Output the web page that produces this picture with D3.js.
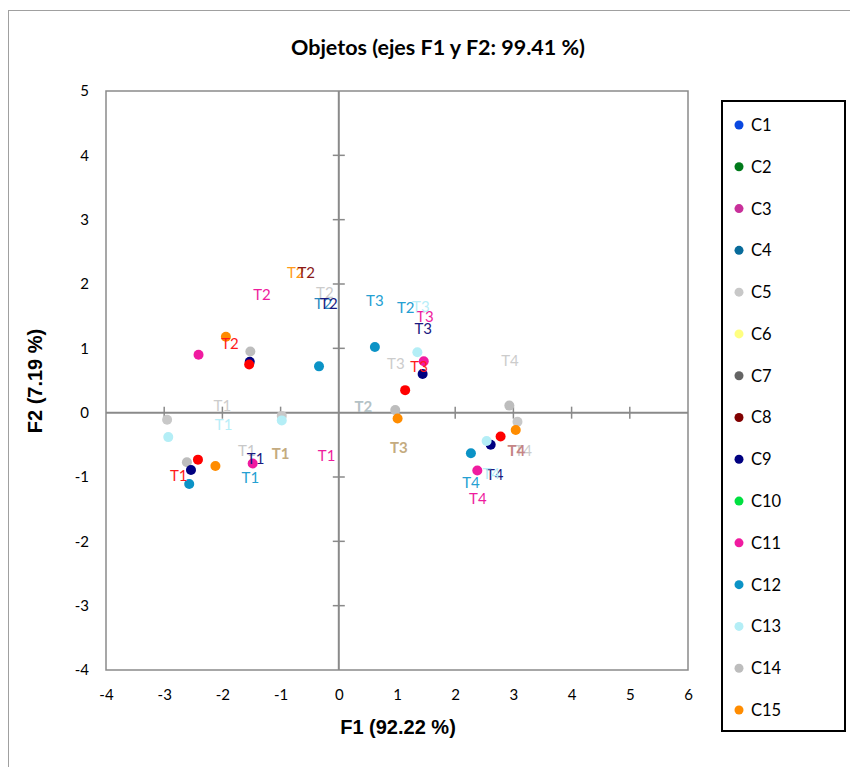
<!DOCTYPE html>
<html><head><meta charset="utf-8">
<script src="https://cdn.jsdelivr.net/npm/d3@7"></script>
<style>body{margin:0;background:#fff;} svg{display:block;}</style>
</head><body><svg id="chart" width="850" height="767"></svg>
<script>
// ---------- DATA ----------
const legendSeries = ["C1","C2","C3","C4","C5","C6","C7","C8","C9","C10","C11","C12","C13","C14","C15"];
const xTicks = [-4,-3,-2,-1,0,1,2,3,4,5,6];
const yTicks = [-4,-3,-2,-1,0,1,2,3,4,5];

// markers (object coordinates F1, F2)
const pointSeries = ["C5","C5","C5",
  "C14","C14","C14","C14",
  "C9","C9","C9","C9",
  "C11","C11","C11","C11",
  "C12","C12","C12","C12",
  "C13","C13","C13","C13",
  "C15","C15","C15","C15",
  "C16","C16","C16","C16"];
const pointX = [-2.95,-0.98,3.07,
  -1.52,-2.61,0.97,2.93,
  -1.53,-2.54,1.44,2.61,
  -2.41,-1.48,1.46,2.38,
  -0.34,0.62,-2.57,2.27,
  1.35,-2.93,-0.98,2.54,
  -1.94,-2.12,1.01,3.04,
  -1.54,-2.42,1.14,2.78];
const pointY = [-0.11,-0.05,-0.14,
  0.95,-0.77,0.04,0.11,
  0.79,-0.89,0.60,-0.50,
  0.90,-0.79,0.80,-0.90,
  0.72,1.02,-1.11,-0.63,
  0.94,-0.38,-0.12,-0.44,
  1.18,-0.83,-0.09,-0.27,
  0.75,-0.73,0.35,-0.37];

// labels
const labelSeries = ["C5","mix3","mix1","mix2","mix1",
  "C15","C8","C5","C4","C9",
  "C11","C11","C11","C11",
  "C5","C5","C5","C14",
  "C9","C9","C9",
  "C16","C16","C16",
  "C12","C12","C12","C12",
  "C13","C13","C13"];
const labelText = ["T4","T4","T1","T2","T3",
  "T2","T2","T2","T2","T2",
  "T2","T3","T1","T4",
  "T3","T1","T4","T1",
  "T3","T1","T4",
  "T2","T3","T1",
  "T3","T2","T1","T4",
  "T3","T1","T4"];
const labelX = [3.17,3.05,-1.00,0.42,1.03,
  -0.74,-0.56,-0.24,-0.27,-0.17,
  -1.32,1.48,-0.21,2.39,
  0.98,-2.00,2.94,-1.58,
  1.45,-1.43,2.68,
  -1.87,1.38,-2.75,
  0.62,1.15,-1.52,2.27,
  1.41,-1.98,2.62];
const labelY = [-0.59,-0.59,-0.63,0.10,-0.55,
  2.17,2.17,1.87,1.69,1.69,
  1.83,1.49,-0.66,-1.34,
  0.76,0.11,0.81,-0.59,
  1.30,-0.72,-0.96,
  1.07,0.71,-0.98,
  1.74,1.64,-1.01,-1.09,
  1.65,-0.18,-0.94];

// ---------- STYLES ----------
const seriesColor = d3.scaleOrdinal()
  .domain(["C1","C2","C3","C4","C5","C6","C7","C8","C9","C10","C11","C12","C13","C14","C15","C16"])
  .range(["#0a48e0","#007a1a","#c8309a","#086b9a","#c8c8c8","#ffff80","#646464","#800000","#000080","#00e040","#f01ba0","#0b93c6","#b4eef6","#bdbdbd","#ff8c00","#ff0000"]);
const labelColor = d3.scaleOrdinal()
  .domain(["C4","C5","C8","C9","C11","C12","C13","C14","C15","C16","mix1","mix2","mix3"])
  .range(["#2a88c0","#cccccc","#8b1a1a","#1a1a80","#ee1c9e","#25a0d2","#b8eef8","#c8c8c8","#ff9a1a","#ff1a1a","#c4ab80","#b4c2c6","#c58585"]);
const boldSeries = new Set(["mix1","mix2","mix3"]);

const plot = {left:106, right:688, top:91, bottom:670};
const svg = d3.select("#chart");

const x = d3.scaleLinear().domain([-4,6]).range([plot.left, plot.right]);
const y = d3.scaleLinear().domain([-4,5]).range([plot.bottom, plot.top]);

// outer chart border
svg.append("rect").attr("x",8.5).attr("y",10.5).attr("width",900).attr("height",800)
  .attr("fill","none").attr("stroke","#a0a0a0").attr("stroke-width",1);

// title
svg.append("text").attr("x",438).attr("y",55).attr("text-anchor","middle")
  .attr("font-family","Lato, 'Open Sans', sans-serif").attr("font-weight","bold")
  .attr("font-size",21.5).attr("fill","#000").text("Objetos (ejes F1 y F2: 99.41 %)");

// plot frame
svg.append("rect").attr("x",plot.left).attr("y",plot.top)
  .attr("width",plot.right-plot.left).attr("height",plot.bottom-plot.top)
  .attr("fill","none").attr("stroke","#8a8a8a").attr("stroke-width",1.5);

// tick labels via axes
const fmt = d => String(d);
const xAxis = d3.axisBottom(x).tickValues(xTicks).tickSize(0).tickPadding(19).tickFormat(fmt);
const gx = svg.append("g").attr("transform",`translate(0,${plot.bottom})`).call(xAxis);
gx.select(".domain").remove();
gx.selectAll("text").attr("font-family","Lato, sans-serif").attr("font-size",15).attr("fill","#000");

const yAxis = d3.axisLeft(y).tickValues(yTicks).tickSize(0).tickPadding(17).tickFormat(fmt);
const gy = svg.append("g").attr("transform",`translate(${plot.left},0)`).call(yAxis);
gy.select(".domain").remove();
gy.selectAll("text").attr("font-family","Lato, sans-serif").attr("font-size",15).attr("fill","#000");

// zero axes with cross ticks
const axG = svg.append("g").attr("stroke","#8a8a8a");
axG.append("line").attr("x1",plot.left).attr("x2",plot.right).attr("y1",y(0)).attr("y2",y(0)).attr("stroke-width",2);
axG.append("line").attr("x1",x(0)).attr("x2",x(0)).attr("y1",plot.top).attr("y2",plot.bottom).attr("stroke-width",2);
axG.selectAll(".xt").data(xTicks.filter(d=>d!==0 && d!==-4 && d!==6)).enter().append("line")
  .attr("x1",d=>x(d)).attr("x2",d=>x(d)).attr("y1",y(0)-6).attr("y2",y(0)+6).attr("stroke-width",1.5);
axG.selectAll(".yt").data(yTicks.filter(d=>d!==0 && d!==-4 && d!==5)).enter().append("line")
  .attr("x1",x(0)-6).attr("x2",x(0)+6).attr("y1",d=>y(d)).attr("y2",d=>y(d)).attr("stroke-width",1.5);

// axis titles
svg.append("text").attr("x",398).attr("y",734).attr("text-anchor","middle")
  .attr("font-family","'Liberation Sans', Arial, sans-serif").attr("font-weight","bold")
  .attr("font-size",20).text("F1 (92.22 %)");
svg.append("text").attr("transform","translate(42,381) rotate(-90)").attr("text-anchor","middle")
  .attr("font-family","'Liberation Sans', Arial, sans-serif").attr("font-weight","bold")
  .attr("font-size",20).text("F2 (7.19 %)");

// points
const drawOrder = ["C5","C14","C9","C11","C12","C13","C15","C16"];
const pts = pointX.map((v,i)=>({x:v, y:pointY[i], s:pointSeries[i]}))
  .sort((a,b)=>drawOrder.indexOf(a.s)-drawOrder.indexOf(b.s));
svg.append("g").selectAll("circle").data(pts).enter().append("circle")
  .attr("cx",d=>x(d.x)).attr("cy",d=>y(d.y)).attr("r",5)
  .attr("fill",d=>seriesColor(d.s));

// labels
const labs = labelX.map((v,i)=>({x:v, y:labelY[i], s:labelSeries[i], t:labelText[i]}));
svg.append("g").selectAll("text").data(labs).enter().append("text")
  .attr("x",d=>x(d.x)).attr("y",d=>y(d.y)).attr("dy","0.36em")
  .attr("text-anchor","middle")
  .attr("font-family","Lato, sans-serif").attr("font-size",15)
  .attr("font-weight",d=>boldSeries.has(d.s)?"bold":"normal")
  .attr("fill",d=>labelColor(d.s)).text(d=>d.t);

// legend
const lg = svg.append("g");
lg.append("rect").attr("x",722).attr("y",101).attr("width",123).attr("height",630)
  .attr("fill","#fff").attr("stroke","#000").attr("stroke-width",2);
const ly = d3.scalePoint().domain(legendSeries).range([125,710]);
const li = lg.selectAll("g.item").data(legendSeries).enter().append("g").attr("class","item")
  .attr("transform",d=>`translate(0,${ly(d)})`);
li.append("circle").attr("cx",739).attr("cy",0).attr("r",4.5).attr("fill",d=>seriesColor(d));
li.append("text").attr("x",751).attr("y",0).attr("dy","0.36em")
  .attr("font-family","Lato, sans-serif").attr("font-size",16.5).attr("fill","#000").text(d=>d);
</script>
</body></html>
